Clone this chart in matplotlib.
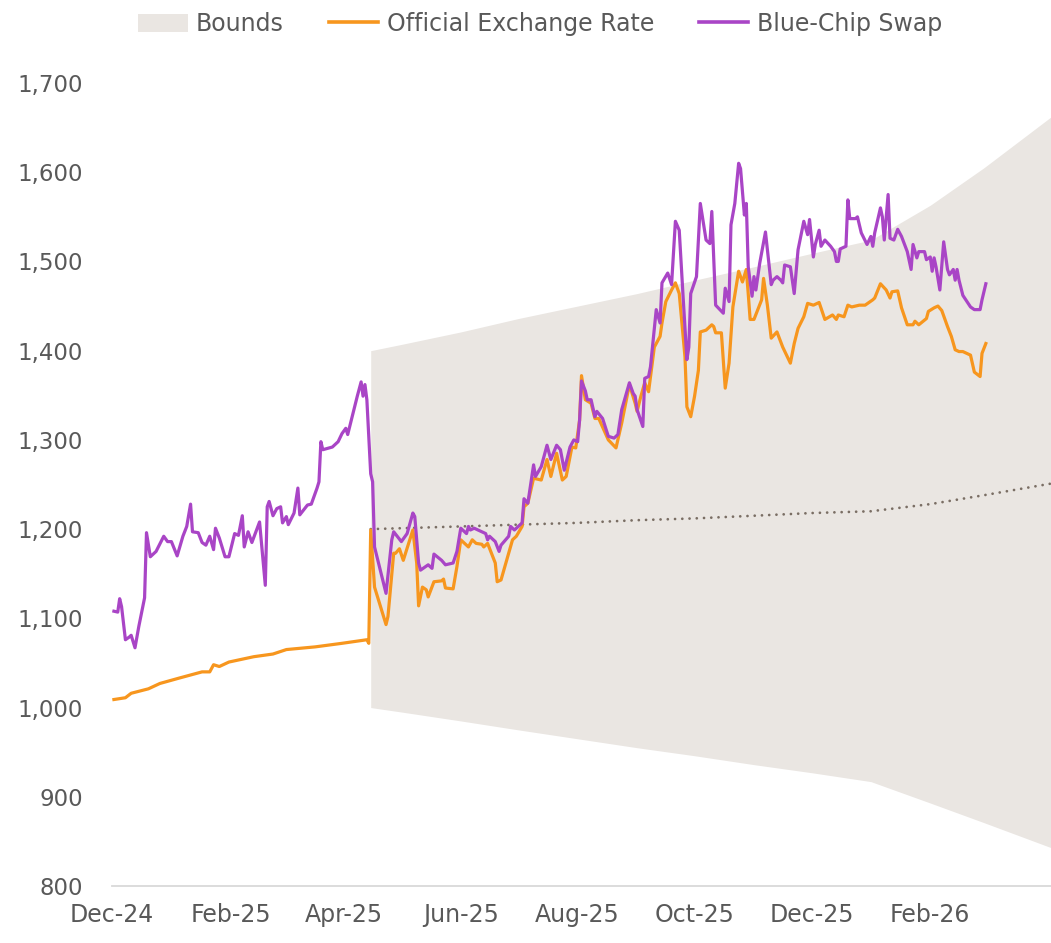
import matplotlib
matplotlib.use("Agg")
import matplotlib.pyplot as plt
from matplotlib.patches import Patch
from matplotlib.lines import Line2D
from matplotlib.ticker import FuncFormatter
import pandas as pd

# Official exchange rate (ARS per USD)
official_dates = [
    "2024-12-02", "2024-12-08", "2024-12-11", "2024-12-20", "2024-12-26", "2025-01-05", "2025-01-17",
    "2025-01-21", "2025-01-23", "2025-01-26", "2025-01-31", "2025-02-13", "2025-02-23", "2025-03-02",
    "2025-03-17", "2025-03-31", "2025-04-13", "2025-04-14", "2025-04-15", "2025-04-17", "2025-04-23",
    "2025-04-24", "2025-04-27", "2025-04-28", "2025-04-30", "2025-05-02", "2025-05-07", "2025-05-09",
    "2025-05-10", "2025-05-12", "2025-05-14", "2025-05-15", "2025-05-18", "2025-05-22", "2025-05-23",
    "2025-05-24", "2025-05-28", "2025-05-30", "2025-06-01", "2025-06-05", "2025-06-07", "2025-06-09",
    "2025-06-12", "2025-06-13", "2025-06-15", "2025-06-19", "2025-06-20", "2025-06-22", "2025-06-26",
    "2025-06-28", "2025-06-30", "2025-07-03", "2025-07-04", "2025-07-06", "2025-07-09", "2025-07-13",
    "2025-07-16", "2025-07-18", "2025-07-21", "2025-07-24", "2025-07-26", "2025-07-29", "2025-07-31",
    "2025-08-02", "2025-08-03", "2025-08-05", "2025-08-08", "2025-08-10", "2025-08-12", "2025-08-17",
    "2025-08-21", "2025-08-24", "2025-08-28", "2025-08-31", "2025-09-01", "2025-09-03", "2025-09-05",
    "2025-09-07", "2025-09-10", "2025-09-13", "2025-09-14", "2025-09-16", "2025-09-19", "2025-09-21",
    "2025-09-23", "2025-09-26", "2025-09-27", "2025-09-29", "2025-10-01", "2025-10-03", "2025-10-04",
    "2025-10-07", "2025-10-10", "2025-10-11", "2025-10-12", "2025-10-15", "2025-10-17", "2025-10-19",
    "2025-10-21", "2025-10-24", "2025-10-26", "2025-10-28", "2025-10-29", "2025-10-30", "2025-11-01",
    "2025-11-03", "2025-11-05", "2025-11-06", "2025-11-08", "2025-11-10", "2025-11-13", "2025-11-16",
    "2025-11-18", "2025-11-20", "2025-11-22", "2025-11-24", "2025-11-27", "2025-11-29", "2025-12-02",
    "2025-12-05", "2025-12-08", "2025-12-12", "2025-12-14", "2025-12-15", "2025-12-18", "2025-12-20",
    "2025-12-22", "2025-12-26", "2025-12-29", "2026-01-02", "2026-01-03", "2026-01-06", "2026-01-09",
    "2026-01-11", "2026-01-12", "2026-01-15", "2026-01-17", "2026-01-20", "2026-01-23", "2026-01-24",
    "2026-01-26", "2026-01-30", "2026-01-31", "2026-02-03", "2026-02-05", "2026-02-07", "2026-02-10",
    "2026-02-12", "2026-02-14", "2026-02-16", "2026-02-18", "2026-02-22", "2026-02-24", "2026-02-27",
    "2026-02-28", "2026-03-02",
]
official_values = [
    1009, 1011, 1016, 1021, 1027, 1033, 1040,
    1040, 1048, 1046, 1051, 1057, 1060, 1065,
    1068, 1072, 1076, 1072, 1199, 1135, 1093,
    1102, 1173, 1173, 1178, 1165, 1199, 1162,
    1114, 1135, 1132, 1124, 1141, 1142, 1144,
    1134, 1133, 1158, 1188, 1180, 1188, 1184,
    1183, 1180, 1184, 1162, 1141, 1143, 1173,
    1188, 1192, 1203, 1225, 1229, 1257, 1255,
    1278, 1259, 1285, 1255, 1259, 1292, 1291,
    1322, 1372, 1345, 1341, 1324, 1324, 1300,
    1291, 1319, 1362, 1341, 1332, 1349, 1364,
    1354, 1404, 1416, 1431, 1455, 1468, 1476,
    1464, 1393, 1337, 1326, 1349, 1378, 1421,
    1423, 1429, 1427, 1420, 1420, 1358, 1386,
    1449, 1489, 1477, 1491, 1464, 1435, 1435,
    1446, 1457, 1481, 1451, 1414, 1421, 1404,
    1395, 1386, 1408, 1425, 1438, 1453, 1451,
    1454, 1435, 1440, 1435, 1440, 1438, 1451,
    1449, 1451, 1451, 1457, 1459, 1475, 1468,
    1459, 1466, 1467, 1448, 1429, 1429, 1433,
    1429, 1436, 1444, 1448, 1450, 1445, 1427,
    1416, 1401, 1399, 1399, 1395, 1376, 1371,
    1397, 1408,
]

# Blue-chip swap rate
bcs_dates = [
    "2024-12-02", "2024-12-04", "2024-12-05", "2024-12-06", "2024-12-08", "2024-12-10", "2024-12-11",
    "2024-12-13", "2024-12-15", "2024-12-18", "2024-12-19", "2024-12-21", "2024-12-24", "2024-12-28",
    "2024-12-30", "2025-01-01", "2025-01-04", "2025-01-07", "2025-01-09", "2025-01-11", "2025-01-12",
    "2025-01-15", "2025-01-17", "2025-01-19", "2025-01-21", "2025-01-23", "2025-01-24", "2025-01-26",
    "2025-01-29", "2025-01-31", "2025-02-03", "2025-02-05", "2025-02-07", "2025-02-08", "2025-02-10",
    "2025-02-12", "2025-02-16", "2025-02-19", "2025-02-20", "2025-02-21", "2025-02-23", "2025-02-25",
    "2025-02-27", "2025-02-28", "2025-03-02", "2025-03-03", "2025-03-06", "2025-03-08", "2025-03-09",
    "2025-03-13", "2025-03-15", "2025-03-18", "2025-03-19", "2025-03-20", "2025-03-21", "2025-03-26",
    "2025-03-29", "2025-03-31", "2025-04-02", "2025-04-03", "2025-04-06", "2025-04-08", "2025-04-10",
    "2025-04-11", "2025-04-12", "2025-04-13", "2025-04-15", "2025-04-16", "2025-04-17", "2025-04-23",
    "2025-04-26", "2025-04-27", "2025-05-01", "2025-05-04", "2025-05-07", "2025-05-08", "2025-05-10",
    "2025-05-11", "2025-05-15", "2025-05-17", "2025-05-18", "2025-05-22", "2025-05-24", "2025-05-28",
    "2025-05-30", "2025-06-01", "2025-06-04", "2025-06-05", "2025-06-06", "2025-06-08", "2025-06-12",
    "2025-06-14", "2025-06-15", "2025-06-16", "2025-06-19", "2025-06-21", "2025-06-22", "2025-06-26",
    "2025-06-27", "2025-06-29", "2025-07-01", "2025-07-03", "2025-07-04", "2025-07-06", "2025-07-09",
    "2025-07-10", "2025-07-13", "2025-07-16", "2025-07-18", "2025-07-21", "2025-07-23", "2025-07-25",
    "2025-07-28", "2025-07-30", "2025-08-01", "2025-08-02", "2025-08-03", "2025-08-05", "2025-08-06",
    "2025-08-08", "2025-08-10", "2025-08-11", "2025-08-14", "2025-08-17", "2025-08-20", "2025-08-22",
    "2025-08-24", "2025-08-28", "2025-08-30", "2025-08-31", "2025-09-01", "2025-09-04", "2025-09-05",
    "2025-09-07", "2025-09-08", "2025-09-11", "2025-09-13", "2025-09-14", "2025-09-17", "2025-09-19",
    "2025-09-21", "2025-09-23", "2025-09-25", "2025-09-27", "2025-09-28", "2025-09-29", "2025-10-02",
    "2025-10-04", "2025-10-07", "2025-10-09", "2025-10-10", "2025-10-12", "2025-10-16", "2025-10-17",
    "2025-10-19", "2025-10-20", "2025-10-22", "2025-10-24", "2025-10-25", "2025-10-27", "2025-10-28",
    "2025-10-29", "2025-10-31", "2025-11-01", "2025-11-02", "2025-11-04", "2025-11-07", "2025-11-10",
    "2025-11-11", "2025-11-13", "2025-11-15", "2025-11-16", "2025-11-17", "2025-11-20", "2025-11-22",
    "2025-11-24", "2025-11-27", "2025-11-29", "2025-11-30", "2025-12-02", "2025-12-03", "2025-12-05",
    "2025-12-06", "2025-12-08", "2025-12-11", "2025-12-13", "2025-12-14", "2025-12-15", "2025-12-16",
    "2025-12-19", "2025-12-20", "2025-12-21", "2025-12-24", "2025-12-25", "2025-12-27", "2025-12-30",
    "2026-01-01", "2026-01-02", "2026-01-03", "2026-01-06", "2026-01-07", "2026-01-08", "2026-01-10",
    "2026-01-11", "2026-01-13", "2026-01-15", "2026-01-17", "2026-01-20", "2026-01-22", "2026-01-23",
    "2026-01-25", "2026-01-26", "2026-01-29", "2026-01-30", "2026-02-01", "2026-02-02", "2026-02-03",
    "2026-02-04", "2026-02-06", "2026-02-08", "2026-02-10", "2026-02-11", "2026-02-13", "2026-02-14",
    "2026-02-15", "2026-02-16", "2026-02-18", "2026-02-22", "2026-02-24", "2026-02-27", "2026-02-28",
    "2026-03-02",
]
bcs_values = [
    1108, 1107, 1122, 1113, 1076, 1079, 1081,
    1067, 1091, 1123, 1196, 1169, 1175, 1192,
    1186, 1186, 1170, 1192, 1203, 1228, 1197,
    1196, 1185, 1182, 1192, 1177, 1201, 1190,
    1169, 1169, 1195, 1193, 1215, 1180, 1197,
    1185, 1208, 1137, 1225, 1231, 1215, 1223,
    1225, 1207, 1214, 1205, 1218, 1246, 1216,
    1227, 1228, 1246, 1253, 1298, 1289, 1292,
    1298, 1307, 1313, 1306, 1332, 1349, 1365,
    1349, 1362, 1345, 1262, 1253, 1180, 1128,
    1188, 1197, 1186, 1195, 1218, 1214, 1162,
    1154, 1160, 1156, 1172, 1165, 1160, 1162,
    1175, 1201, 1195, 1203, 1199, 1201, 1197,
    1195, 1188, 1192, 1186, 1175, 1182, 1192,
    1203, 1199, 1203, 1207, 1234, 1229, 1272,
    1259, 1270, 1294, 1278, 1294, 1289, 1266,
    1292, 1300, 1298, 1322, 1366, 1355, 1345,
    1345, 1326, 1332, 1324, 1304, 1302, 1306,
    1334, 1364, 1352, 1349, 1334, 1315, 1369,
    1371, 1382, 1446, 1431, 1476, 1487, 1474,
    1545, 1535, 1461, 1390, 1404, 1464, 1483,
    1565, 1524, 1520, 1556, 1451, 1442, 1470,
    1455, 1541, 1565, 1610, 1604, 1552, 1565,
    1494, 1461, 1483, 1468, 1498, 1533, 1474,
    1479, 1483, 1479, 1476, 1496, 1494, 1464,
    1513, 1545, 1530, 1547, 1505, 1519, 1535,
    1517, 1524, 1517, 1511, 1500, 1500, 1514,
    1517, 1569, 1548, 1548, 1550, 1532, 1519,
    1528, 1517, 1532, 1560, 1550, 1524, 1575,
    1526, 1524, 1536, 1528, 1511, 1491, 1519,
    1504, 1511, 1511, 1502, 1505, 1489, 1504,
    1494, 1468, 1522, 1491, 1485, 1491, 1479,
    1491, 1479, 1462, 1449, 1446, 1446, 1457,
    1475,
]

# Exchange rate band (upper / lower bound and the centre line)
band_dates = ["2025-04-15", "2025-05-01", "2025-06-01", "2025-07-01", "2025-08-01", "2025-09-01",
              "2025-10-01", "2025-11-01", "2025-12-01", "2026-01-01", "2026-02-01", "2026-03-01",
              "2026-04-05"]
band_upper = [1400, 1407, 1421, 1436, 1450, 1464, 1479, 1494, 1509, 1524, 1563, 1605, 1662]
band_lower = [1000, 995, 985, 975, 965, 955, 946, 936, 927, 917, 893, 871, 843]
band_mid = [1200, 1201, 1203, 1205, 1207, 1210, 1212, 1215, 1218, 1220, 1228, 1238, 1251]

tick_dates = ["2024-12-01", "2025-02-01", "2025-04-01", "2025-06-01", "2025-08-01",
              "2025-10-01", "2025-12-01", "2026-02-01"]
tick_labels = ["Dec-24", "Feb-25", "Apr-25", "Jun-25", "Aug-25", "Oct-25", "Dec-25", "Feb-26"]

ORANGE = "#F7961E"
PURPLE = "#A945C6"
BAND = "#EAE6E2"
MID = "#7A6E64"
TEXT = "#595959"

fig = plt.figure(figsize=(10.51, 9.43), dpi=100)
ax = fig.add_axes([112 / 1051, 57 / 943, 939 / 1051, 803 / 943])

bd = pd.to_datetime(band_dates)
ax.fill_between(bd, band_lower, band_upper, color=BAND, lw=0, zorder=1)
ax.plot(bd, band_mid, color=MID, lw=2.0, ls=(0, (0.01, 2.6)),
        dash_capstyle="round", zorder=2)
ax.plot(pd.to_datetime(official_dates), official_values, color=ORANGE, lw=2.3, zorder=3)
ax.plot(pd.to_datetime(bcs_dates), bcs_values, color=PURPLE, lw=2.3, zorder=4)

ax.set_xlim(pd.Timestamp("2024-12-01"), pd.Timestamp("2026-04-05"))
ax.set_ylim(800, 1700)
ax.set_yticks(range(800, 1701, 100))
ax.yaxis.set_major_formatter(FuncFormatter(lambda v, _: f"{v:,.0f}"))
ax.set_xticks(pd.to_datetime(tick_dates))
ax.set_xticklabels(tick_labels)

ax.tick_params(axis="x", length=0, pad=12, labelsize=17, colors=TEXT)
ax.tick_params(axis="y", length=0, pad=21, labelsize=16.5, colors=TEXT)

for s in ["top", "right", "left"]:
    ax.spines[s].set_visible(False)
ax.spines["bottom"].set_color("#D9D9D9")
ax.spines["bottom"].set_linewidth(1.3)

handles = [
    Patch(facecolor=BAND, edgecolor="none", label="Bounds"),
    Line2D([0], [0], color=ORANGE, lw=2.6, label="Official Exchange Rate"),
    Line2D([0], [0], color=PURPLE, lw=2.6, label="Blue-Chip Swap"),
]
leg = fig.legend(handles=handles, loc="center", bbox_to_anchor=(540 / 1051, 1 - 24 / 943),
                 ncol=3, frameon=False, fontsize=17, handlelength=2.1, handleheight=0.8,
                 handletextpad=0.35, columnspacing=1.9)
for t in leg.get_texts():
    t.set_color(TEXT)

fig.savefig("out.png", dpi=100)
